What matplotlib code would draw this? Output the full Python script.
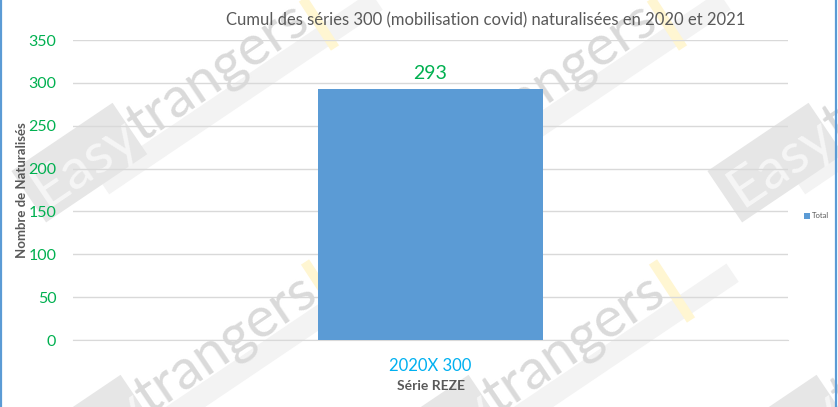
import numpy as np
import matplotlib.pyplot as plt
from matplotlib.patches import Polygon
from matplotlib.lines import Line2D

# ------------------------------------------------
# data
categories = ["2020X 300"]
values = [293]
series_name = "Total"
yticks = [0, 50, 100, 150, 200, 250, 300, 350]

title = "Cumul des séries 300 (mobilisation covid) naturalisées en 2020 et 2021"
xlabel = "Série REZE"
ylabel = "Nombre de Naturalisés"

W, H = 838, 407
plt.rcParams["font.family"] = ["Lato", "DejaVu Sans"]

fig = plt.figure(figsize=(W / 100, H / 100), dpi=100)
fig.patch.set_facecolor("white")

# ------------------------------------------------
# background watermark, in pixel coords (y down)
wm = fig.add_axes([0, 0, 1, 1], zorder=0)
wm.set_xlim(0, W)
wm.set_ylim(H, 0)
wm.axis("off")

ROT = 34
WM_SIZE = 41
ang = np.deg2rad(ROT)
u = np.array([np.cos(ang), -np.sin(ang)])   # along text, going up-right
v = np.array([np.sin(ang), np.cos(ang)])    # perpendicular, going down-right

# width of "Easy" so "trangers" follows it on the same baseline
renderer = fig.canvas.get_renderer()
tmp = wm.text(0, 0, "Easy", fontsize=WM_SIZE)
easy_w = tmp.get_window_extent(renderer).width
tmp.remove()


def tile(ox, oy):
    base = np.array([46.0 + ox, 208.0 + oy])
    # faint band under the text
    p0 = base + 2 * v + 60 * u
    band = [p0, p0 + 330 * u, p0 + 330 * u + 22 * v, p0 + 22 * v]
    wm.add_patch(Polygon(band, closed=True, facecolor="#f3f3f3", edgecolor="none", zorder=1))
    # grey block behind "Easy"
    p0 = base + 12 * v - 8 * u
    block = [p0, p0 + 122 * u, p0 + 122 * u - 62 * v, p0 - 62 * v]
    wm.add_patch(Polygon(block, closed=True, facecolor="#e6e6e6", edgecolor="none", zorder=2))
    wm.text(base[0], base[1], "Easy", rotation=ROT, rotation_mode="anchor",
            ha="left", va="baseline", fontsize=WM_SIZE, color="#f6f6f6", zorder=3)
    tpos = base + easy_w * u
    wm.text(tpos[0], tpos[1], "trangers", rotation=ROT, rotation_mode="anchor",
            ha="left", va="baseline", fontsize=WM_SIZE, color="#dadada", zorder=3)
    # pale yellow stroke
    wm.plot([297 + ox, 335 + ox], [-10 + oy, 48 + oy], color="#fff6d2", lw=7,
            solid_capstyle="butt", zorder=2)


for ty in [0, 272]:
    for tx in [0, 348, 696]:
        tile(tx + (8 if ty else 0), ty)

# ------------------------------------------------
# main chart
ax = fig.add_axes([73 / W, 67 / H, 715 / W, 300 / H], zorder=2)
ax.patch.set_alpha(0)

x = np.arange(len(categories))
bars = ax.bar(x, values, width=0.315, color="#5b9bd5", label=series_name, zorder=3)

ax.set_xlim(-0.5, 0.5)
ax.set_ylim(0, 350)
ax.set_yticks(yticks)
ax.set_xticks(x)
ax.set_xticklabels(categories)
ax.yaxis.grid(True, color="#d9d9d9", lw=1, zorder=0)
ax.set_axisbelow(True)
for s in ["left", "right", "top"]:
    ax.spines[s].set_visible(False)
ax.spines["bottom"].set_color("#d9d9d9")
ax.tick_params(axis="both", length=0)
ax.tick_params(axis="y", labelsize=11.5, labelcolor="#00b050", pad=12)
ax.tick_params(axis="x", labelsize=12, labelcolor="#00b0f0", pad=13)

for b, val in zip(bars, values):
    ax.text(b.get_x() + b.get_width() / 2, val + 8, str(val), ha="center",
            va="bottom", fontsize=14, color="#00b050")

ax.set_xlabel(xlabel, fontsize=10, fontweight="bold", color="#595959", labelpad=4)
ax.set_ylabel(ylabel, fontsize=9.5, fontweight="bold", color="#595959", va="center")
ax.yaxis.set_label_coords((22 - 73) / 715, 0.5)

fig.text(486 / W, 1 - 20 / H, title, ha="center", va="center", fontsize=12,
         color="#595959")

fig.legend(handles=[bars], labels=[series_name], loc="center left",
           bbox_to_anchor=(797 / W, 1 - 216 / H), fontsize=5.5, frameon=False,
           handlelength=0.8, handleheight=0.8, handletextpad=0.3,
           labelcolor="#595959")

# blue frame on the sides
for xf in [1.0 / W, (W - 2.0) / W]:
    fig.add_artist(Line2D([xf, xf], [0, 1], color="#5b9bd5", lw=1.6,
                          transform=fig.transFigure))

fig.savefig("out.png", dpi=100)
